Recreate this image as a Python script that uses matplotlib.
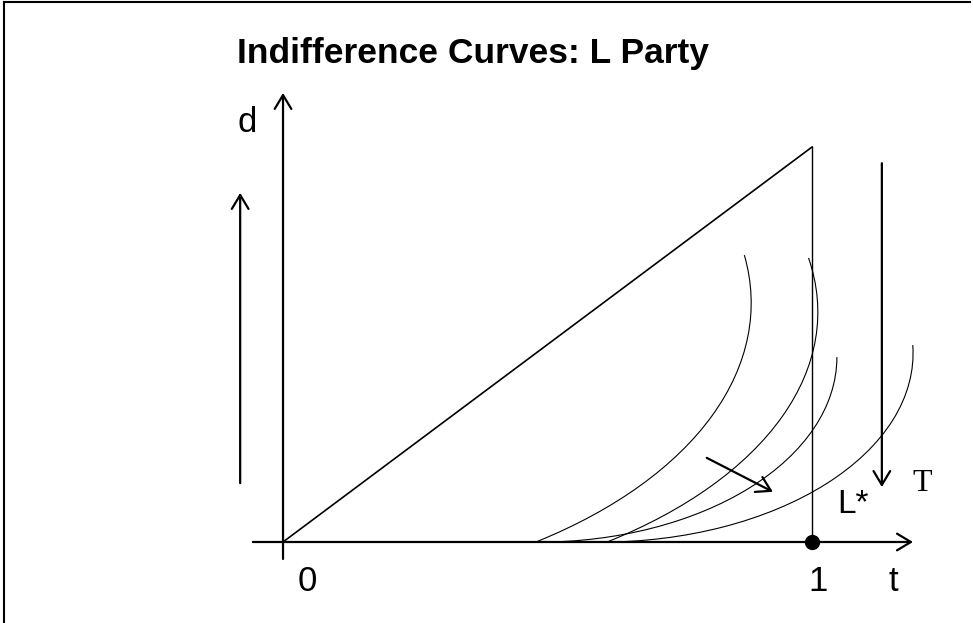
import matplotlib
matplotlib.use('Agg')
import matplotlib.pyplot as plt
from matplotlib.patches import Arc
from matplotlib.lines import Line2D

# indifference curves: elliptical arcs (centre t, centre d, width, height, start/end angle)
curve_t = [-0.062, 0.064, 0.482, 0.599]
curve_d = [0.605, 0.582, 0.468, 0.478]
curve_w = [1.894, 1.894, 1.130, 1.184]
curve_h = [1.473, 1.428, 0.937, 0.957]
curve_a1 = [-48.0, -46.7, -90.0, -90.0]
curve_a2 = [7.4, 8.4, 0.0, 2.0]

# diagonal and the t = 1 line
diag_t = [0.0, 1.0]
diag_d = [0.0, 1.0]

# arrows: (start t, start d) -> (end t, end d)
axis_d_arrow = ((0.0, -0.043), (0.0, 1.137))
axis_t_arrow = ((-0.057, 0.0), (1.191, 0.0))
up_arrow = ((-0.081, 0.149), (-0.081, 0.884))
down_arrow = ((1.132, 0.959), (1.132, 0.139))
shift_arrow = ((0.801, 0.213), (0.926, 0.127))

# L* point
lstar_t = 1.0
lstar_d = 0.0

fig = plt.figure(figsize=(9.73, 6.23), dpi=100)
ax = fig.add_axes([0, 0, 1, 1])
ax.set_xlim(-0.535, 1.3043)
ax.set_ylim(-0.2051, 1.3722)
ax.axis('off')

# frame of the slide (top and left)
fig.add_artist(Line2D([0.0041, 0.0041], [0, 0.9968], color='black', lw=1.5))
fig.add_artist(Line2D([0.0041, 0.997], [0.9968, 0.9968], color='black', lw=1.5))

fig.text(0.486, 0.899, 'Indifference Curves: L Party', ha='center', va='baseline',
         fontsize=25.5, fontweight='bold', family='Liberation Sans')

def arrow(p, lw=1.6):
    ax.annotate('', xy=p[1], xytext=p[0],
                arrowprops=dict(arrowstyle='->,head_length=0.5,head_width=0.3',
                                lw=lw, color='black', mutation_scale=20,
                                shrinkA=0, shrinkB=0))

arrow(axis_d_arrow)
arrow(axis_t_arrow)
arrow(up_arrow)
arrow(down_arrow)
arrow(shift_arrow)

ax.plot(diag_t, diag_d, color='black', lw=1.2)
ax.plot([lstar_t, lstar_t], [0, diag_d[1]], color='black', lw=1.0)

for i in range(len(curve_t)):
    ax.add_patch(Arc((curve_t[i], curve_d[i]), curve_w[i], curve_h[i],
                     theta1=curve_a1[i], theta2=curve_a2[i], color='black', lw=0.8))

ax.plot(lstar_t, lstar_d, 'o', color='black', markersize=10, zorder=5)

sans = 'Liberation Sans'
ax.text(-0.068, 1.061, 'd', ha='center', va='center', fontsize=25, family=sans)
ax.text(0.045, -0.099, '0', ha='center', va='center', fontsize=25, family=sans)
ax.text(1.011, -0.099, '1', ha='center', va='center', fontsize=25, family=sans)
ax.text(1.153, -0.099, 't', ha='center', va='center', fontsize=25, family=sans)
ax.text(1.078, 0.094, 'L*', ha='center', va='center', fontsize=24, family=sans)
ax.text(1.208, 0.149, 'T', ha='center', va='center', fontsize=23, family='Liberation Serif')

fig.savefig('out.png', dpi=100)
